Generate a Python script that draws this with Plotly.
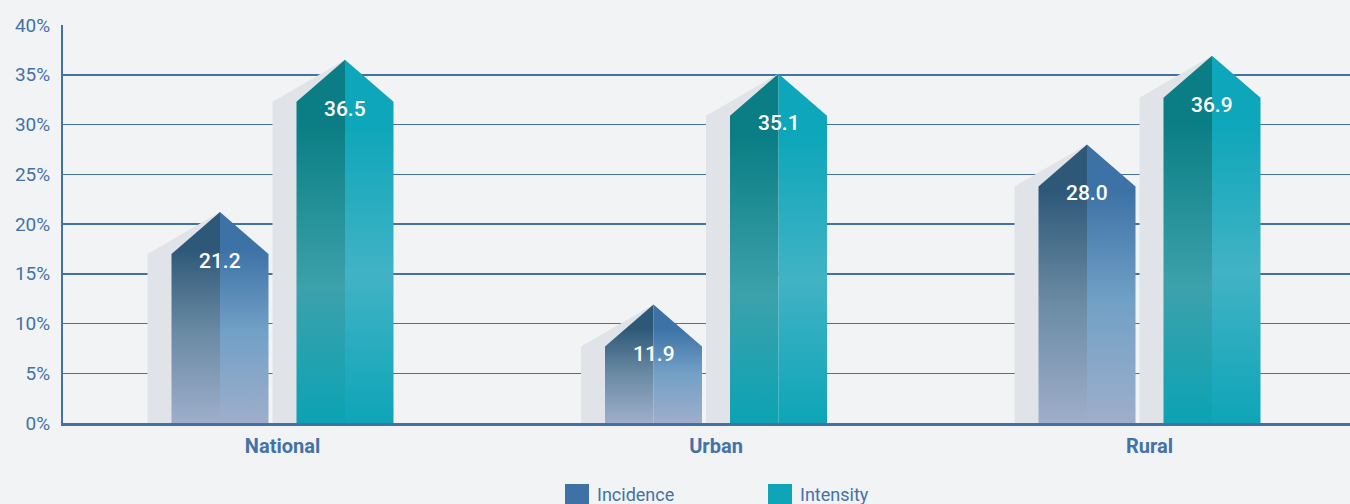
import plotly.graph_objects as go

# ---------------- data ----------------
categories = ["National", "Urban", "Rural"]
incidence = [21.2, 11.9, 28.0]
intensity = [36.5, 35.1, 36.9]
series_names = ["Incidence", "Intensity"]
y_ticks = [0, 5, 10, 15, 20, 25, 30, 35, 40]
y_ticktext = [f"{t}%" for t in y_ticks]

# ---------------- style ----------------
W, H = 1350, 504
ML, MR, MT, MB = 63, 0, 25, 81
PW, PH = W - ML - MR, H - MT - MB
BG = "#f2f3f5"
AXIS = "#4372a7"
TXT = "#4372a7"
SHADOW = "#e0e3e8"
FONT = "Roboto"

unit_px = 433.5              # pixels per category
x0_px = 282.5 - ML           # pixel of first category inside plot area
xmin = -x0_px / unit_px
xmax = xmin + PW / unit_px
ymax = 40
px_per_y = PH / ymax

off = 62.5 / unit_px         # offset of each series from category centre
hw = 48.5 / unit_px          # half width of a bar
sh = 24 / unit_px            # shadow width
tip = 42 / px_per_y          # height of arrow tip in y units

grad = {
    "Incidence": (
        [[0, "#9eaecb"], [0.45, "#6a8aa3"], [0.86, "#2e5878"], [1, "#2e5878"]],
        [[0, "#9eaecb"], [0.45, "#72a0c6"], [0.86, "#3d72a6"], [1, "#3d72a6"]],
    ),
    "Intensity": (
        [[0, "#0ba3b4"], [0.38, "#3ca1ab"], [0.84, "#0a7e84"], [1, "#0a7e84"]],
        [[0, "#0ea5b8"], [0.42, "#41b3c5"], [0.84, "#0ea6ba"], [1, "#0ea6ba"]],
    ),
}
legend_color = {"Incidence": "#3e72a6", "Intensity": "#0ea5b8"}

fig = go.Figure()
annotations = []

for s_idx, (name, vals) in enumerate(zip(series_names, [incidence, intensity])):
    sign = -1 if s_idx == 0 else 1
    left_cs, right_cs = grad[name]
    for c_idx, v in enumerate(vals):
        xc = c_idx + sign * off
        xl, xr = xc - hw, xc + hw
        shoulder = v - tip
        # shadow
        fig.add_trace(go.Scatter(
            x=[xl - sh, xl - sh, xc, xc, xl - sh],
            y=[0, shoulder, v, 0, 0],
            fill="toself", fillcolor=SHADOW, mode="lines",
            line=dict(width=0), hoverinfo="skip", showlegend=False))
        # left half
        fig.add_trace(go.Scatter(
            x=[xl, xl, xc, xc, xl],
            y=[0, shoulder, v, 0, 0],
            fill="toself", mode="lines", line=dict(width=0),
            fillgradient=dict(type="vertical", colorscale=left_cs,
                              start=0, stop=v - tip * 0.2),
            hoverinfo="skip", showlegend=False))
        # right half
        fig.add_trace(go.Scatter(
            x=[xc, xc, xr, xr, xc],
            y=[0, v, shoulder, 0, 0],
            fill="toself", mode="lines", line=dict(width=0),
            fillgradient=dict(type="vertical", colorscale=right_cs,
                              start=0, stop=v - tip * 0.2),
            hoverinfo="skip", showlegend=False))
        annotations.append(dict(
            x=xc, y=shoulder, xref="x", yref="y", text=f"{v:.1f}",
            showarrow=False, yanchor="middle", yshift=-7,
            font=dict(family=FONT, size=21, color="white", weight=500)))

# manual legend (page pixel positions converted to paper coords)
def px2paper_x(px):
    return (px - ML) / PW

def px2paper_y(py):
    return (MT + PH - py) / PH

shapes = []
leg_items = [("Incidence", 565), ("Intensity", 768)]
for name, sx in leg_items:
    shapes.append(dict(type="rect", xref="paper", yref="paper",
                       x0=px2paper_x(sx), x1=px2paper_x(sx + 24),
                       y0=px2paper_y(508), y1=px2paper_y(484),
                       fillcolor=legend_color[name], line=dict(width=0)))
    annotations.append(dict(x=px2paper_x(sx + 30), y=px2paper_y(494),
                            xref="paper", yref="paper", text=name,
                            showarrow=False, xanchor="left", yanchor="middle",
                            font=dict(family=FONT, size=18, color=TXT)))

fig.update_layout(
    width=W, height=H,
    margin=dict(l=ML, r=MR, t=MT, b=MB, pad=0),
    paper_bgcolor=BG, plot_bgcolor=BG,
    showlegend=False,
    hovermode=False,
    annotations=annotations,
    shapes=shapes,
    xaxis=dict(range=[xmin, xmax], tickvals=list(range(len(categories))),
               ticktext=categories, showgrid=False, zeroline=False,
               showline=True, linecolor=AXIS, linewidth=3,
               ticks="", ticklabelstandoff=3,
               tickfont=dict(family=FONT, size=20, color=TXT, weight="bold"),
               fixedrange=True),
    yaxis=dict(range=[0, ymax], tickvals=y_ticks, ticktext=y_ticktext,
               showgrid=True, gridcolor=AXIS, gridwidth=1.5,
               zeroline=False, showline=True, linecolor=AXIS, linewidth=2,
               ticks="", ticklabelstandoff=7,
               tickfont=dict(family=FONT, size=19, color=TXT),
               fixedrange=True),
)

fig.write_html(
    "out.html",
    config={"displayModeBar": False, "staticPlot": True},
    post_script="document.body.style.margin='0';"
                "document.body.style.overflow='hidden';"
                "document.body.style.background='#f2f3f5';",
)
